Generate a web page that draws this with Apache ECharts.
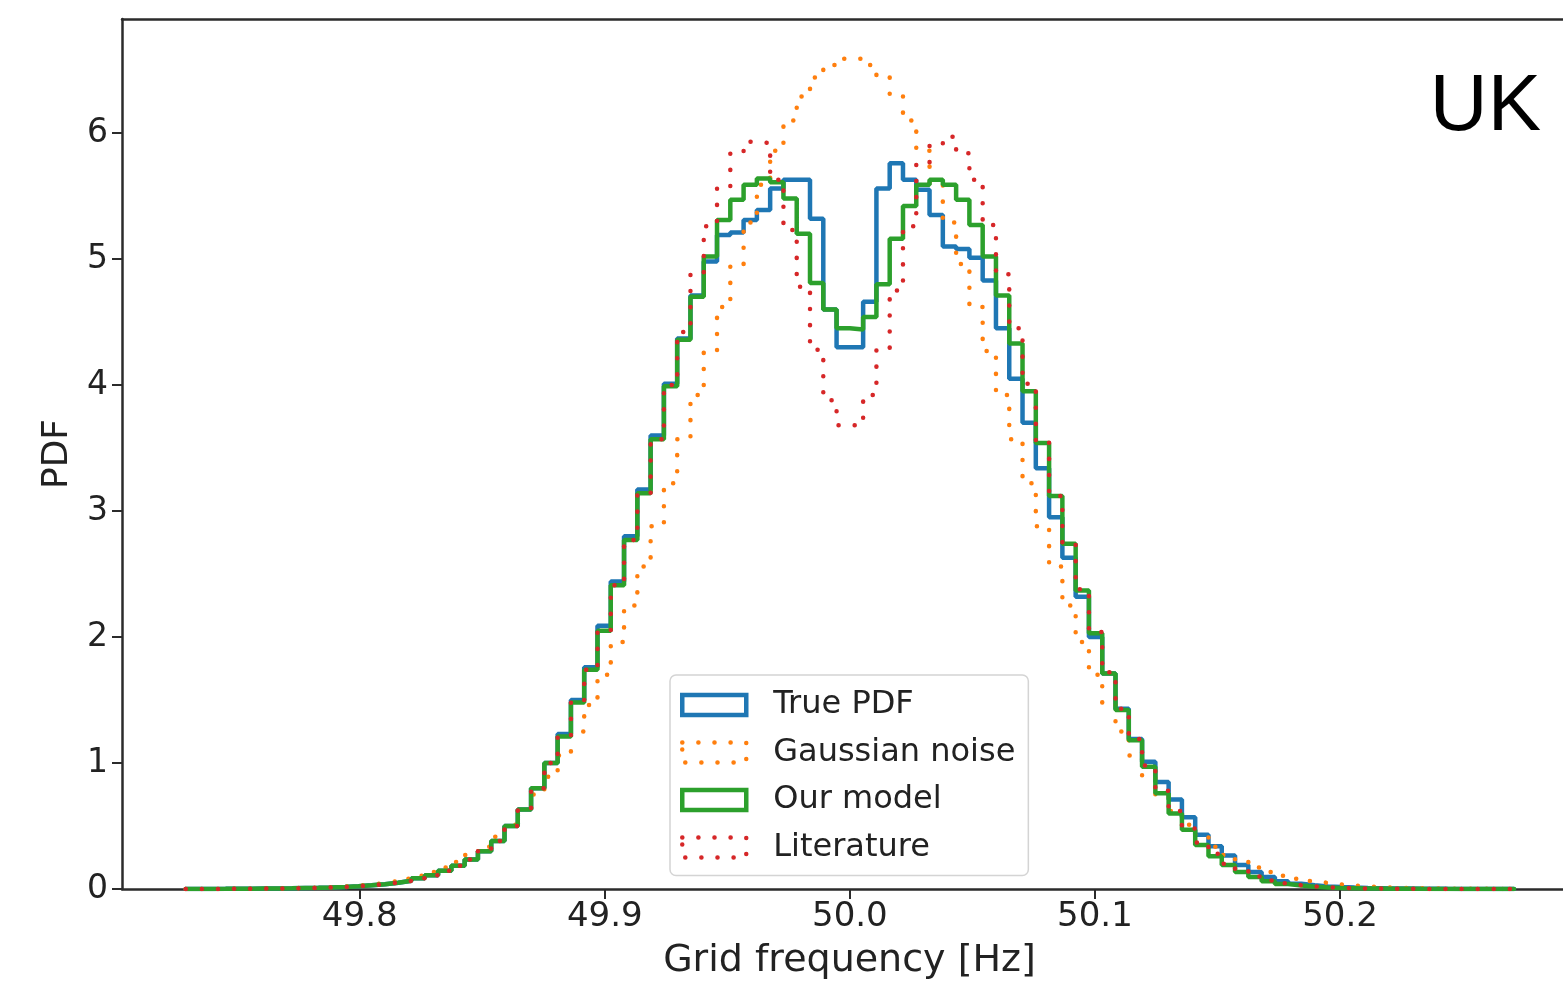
<!DOCTYPE html>
<html>
<head>
<meta charset="utf-8">
<title>UK grid frequency PDF</title>
<script src="https://cdn.jsdelivr.net/npm/echarts@6/dist/echarts.min.js"></script>
<style>
  html, body { margin: 0; padding: 0; background: #fff; }
  #chart { width: 1563px; height: 987px; }
</style>
</head>
<body>
<div id="chart"></div>
<script>
// histogram bins: 100 bins starting at binStart (Hz)
const binStart = 49.729
const binWidth = 0.00542
const xTicks = [49.8, 49.9, 50.0, 50.1, 50.2]
const yTicks = [0, 1, 2, 3, 4, 5, 6]
const seriesNames = ['True PDF', 'Gaussian noise', 'Our model', 'Literature']

// bin heights
const truePdf = [
  0.0005, 0.0008, 0.001, 0.0015, 0.002, 0.003, 0.004, 0.005, 0.007, 0.009,
  0.012, 0.016, 0.022, 0.029, 0.038, 0.05, 0.065, 0.085, 0.11, 0.145,
  0.185, 0.235, 0.30, 0.38, 0.50, 0.63, 0.80, 1.00, 1.23, 1.50,
  1.76, 2.09, 2.44, 2.80, 3.17, 3.60, 4.01, 4.37, 4.71, 4.98,
  5.19, 5.21, 5.31, 5.39, 5.56, 5.63, 5.63, 5.32, 4.60, 4.30,
  4.30, 4.66, 5.56, 5.76, 5.63, 5.55, 5.35, 5.10, 5.08, 5.01,
  4.83, 4.45, 4.05, 3.70, 3.34, 2.95, 2.63, 2.32, 2.00, 1.71,
  1.43, 1.19, 1.01, 0.85, 0.71, 0.57, 0.43, 0.34, 0.265, 0.19,
  0.135, 0.095, 0.062, 0.042, 0.03, 0.02, 0.015, 0.011, 0.008, 0.006,
  0.004, 0.003, 0.002, 0.0015, 0.001, 0.0008, 0.0006, 0.0004, 0.0003, 0.0002
]
const gaussianNoise = [
  0.0003, 0.0005, 0.001, 0.001, 0.002, 0.003, 0.004, 0.006, 0.008, 0.011,
  0.015, 0.020, 0.027, 0.036, 0.048, 0.063, 0.082, 0.105, 0.135, 0.17,
  0.215, 0.27, 0.335, 0.415, 0.51, 0.62, 0.75, 0.89, 1.06, 1.25,
  1.46, 1.70, 1.96, 2.25, 2.56, 2.88, 3.22, 3.57, 3.92, 4.27,
  4.62, 4.96, 5.29, 5.59, 5.86, 6.10, 6.29, 6.44, 6.54, 6.59,
  6.59, 6.54, 6.44, 6.29, 6.10, 5.86, 5.59, 5.29, 4.96, 4.62,
  4.27, 3.92, 3.57, 3.22, 2.88, 2.56, 2.25, 1.96, 1.70, 1.46,
  1.25, 1.06, 0.89, 0.75, 0.62, 0.51, 0.415, 0.335, 0.27, 0.215,
  0.17, 0.135, 0.105, 0.082, 0.063, 0.048, 0.036, 0.027, 0.020, 0.015,
  0.011, 0.008, 0.006, 0.004, 0.003, 0.002, 0.001, 0.001, 0.0005, 0.0003
]
const ourModel = [
  0.0005, 0.0008, 0.001, 0.0015, 0.002, 0.003, 0.004, 0.005, 0.007, 0.009,
  0.012, 0.016, 0.022, 0.029, 0.038, 0.05, 0.065, 0.085, 0.11, 0.145,
  0.185, 0.235, 0.30, 0.38, 0.50, 0.63, 0.80, 1.00, 1.21, 1.48,
  1.74, 2.05, 2.41, 2.77, 3.14, 3.57, 3.99, 4.36, 4.70, 5.02,
  5.31, 5.47, 5.59, 5.64, 5.61, 5.48, 5.20, 4.81, 4.60, 4.45,
  4.44, 4.54, 4.80, 5.16, 5.42, 5.59, 5.63, 5.59, 5.47, 5.27,
  5.02, 4.71, 4.33, 3.95, 3.54, 3.12, 2.74, 2.37, 2.03, 1.71,
  1.42, 1.18, 0.97, 0.76, 0.60, 0.47, 0.35, 0.26, 0.19, 0.135,
  0.095, 0.062, 0.04, 0.027, 0.018, 0.012, 0.008, 0.006, 0.004, 0.003,
  0.002, 0.0015, 0.001, 0.0008, 0.0006, 0.0004, 0.0003, 0.0002, 0.0001, 0.0001
]
const literature = [
  0.0005, 0.0008, 0.001, 0.0015, 0.002, 0.003, 0.004, 0.005, 0.007, 0.009,
  0.012, 0.016, 0.022, 0.029, 0.038, 0.05, 0.065, 0.085, 0.11, 0.145,
  0.185, 0.235, 0.30, 0.38, 0.50, 0.63, 0.80, 1.00, 1.21, 1.48,
  1.74, 2.05, 2.41, 2.77, 3.14, 3.57, 4.00, 4.42, 4.89, 5.26,
  5.56, 5.85, 5.93, 5.92, 5.63, 5.23, 4.78, 4.28, 3.88, 3.68,
  3.68, 3.92, 4.28, 4.75, 5.26, 5.76, 5.91, 5.97, 5.84, 5.63,
  5.27, 4.88, 4.45, 4.01, 3.55, 3.12, 2.75, 2.38, 2.04, 1.72,
  1.43, 1.19, 0.98, 0.78, 0.62, 0.48, 0.37, 0.28, 0.20, 0.145,
  0.10, 0.068, 0.045, 0.03, 0.02, 0.014, 0.009, 0.006, 0.004, 0.003,
  0.002, 0.0015, 0.001, 0.0008, 0.0006, 0.0004, 0.0003, 0.0002, 0.0001, 0.0001
]

const colors = ['#1f77b4', '#ff7f0e', '#2ca02c', '#d62728']
const dotted = [0.1, 16]
const lineTypes = ['solid', dotted, 'solid', dotted]
const font = 'DejaVu Sans'
const spine = '#2b2b2b'
const xMin = 49.703, xMax = 50.291

// outline of a step histogram (like histtype='step')
function stepPoints(values) {
  let pts = [[binStart, 0]]
  values.forEach((v, i) => pts.push([binStart + i * binWidth, v]))
  let end = binStart + values.length * binWidth
  pts.push([end, values[values.length - 1]])
  pts.push([end, 0])
  return pts
}

let chart = echarts.init(document.getElementById('chart'), null, { renderer: 'canvas' })

let option = {
  animation: false,
  backgroundColor: '#fff',
  title: {
    text: 'UK',
    right: 17,
    top: 63,
    textStyle: { fontFamily: 'Liberation Sans', fontSize: 80, fontWeight: 'normal', color: '#000' }
  },
  grid: {
    left: 122,
    right: 0,
    top: 19,
    bottom: 98
  },
  legend: {
    orient: 'vertical',
    left: 670,
    top: 675,
    padding: [14, 13, 12, 10],
    itemWidth: 64,
    itemHeight: 20,
    itemGap: 15.5,
    backgroundColor: 'rgba(255,255,255,0.8)',
    borderColor: '#d4d4d4',
    borderWidth: 1.5,
    borderRadius: 6,
    textStyle: { fontFamily: font, fontSize: 32, color: '#222', lineHeight: 24, padding: [0, 0, 0, 22] },
    data: seriesNames.map((n, i) => ({
      name: n,
      icon: 'rect',
      itemStyle: {
        color: 'rgba(0,0,0,0)',
        borderColor: colors[i],
        borderWidth: 4.5,
        borderType: lineTypes[i],
        borderCap: 'round'
      }
    }))
  },
  xAxis: [{
    type: 'value',
    min: xMin,
    max: xMax,
    name: 'Grid frequency [Hz]',
    nameLocation: 'middle',
    nameGap: 53,
    // the plot is cropped on the right, so push the centred name back to 50.0
    nameTextStyle: { fontFamily: font, fontSize: 38, color: '#222', padding: [0, 0, 0, 14] },
    axisLine: { onZero: false, lineStyle: { color: spine, width: 2.5 } },
    axisTick: { length: 10, lineStyle: { color: spine, width: 2 }, customValues: xTicks },
    axisLabel: {
      fontFamily: font, fontSize: 34, color: '#222', margin: 11,
      customValues: xTicks,
      formatter: v => v.toFixed(1)
    },
    splitLine: { show: false }
  }, {
    // top spine
    type: 'value',
    position: 'top',
    min: xMin,
    max: xMax,
    axisLine: { onZero: false, lineStyle: { color: spine, width: 2.5 } },
    axisTick: { show: false },
    axisLabel: { show: false },
    splitLine: { show: false }
  }],
  yAxis: {
    type: 'value',
    min: 0,
    max: 6.905,
    name: 'PDF',
    nameLocation: 'middle',
    nameGap: 46,
    nameTextStyle: { fontFamily: font, fontSize: 36, color: '#222' },
    axisLine: { show: true, lineStyle: { color: spine, width: 2.5 } },
    axisTick: { show: true, length: 10, lineStyle: { color: spine, width: 2 }, customValues: yTicks },
    axisLabel: { fontFamily: font, fontSize: 33, color: '#222', margin: 14, customValues: yTicks },
    splitLine: { show: false }
  },
  series: [truePdf, gaussianNoise, ourModel, literature].map((vals, i) => ({
    name: seriesNames[i],
    type: 'line',
    step: 'end',
    data: stepPoints(vals),
    showSymbol: false,
    symbol: 'none',
    color: colors[i],
    lineStyle: { color: colors[i], width: 4.5, type: lineTypes[i], cap: 'round' },
    emphasis: { disabled: true },
    z: 2 + i
  }))
}

chart.setOption(option)
window.addEventListener('resize', () => chart.resize())
</script>
</body>
</html>
